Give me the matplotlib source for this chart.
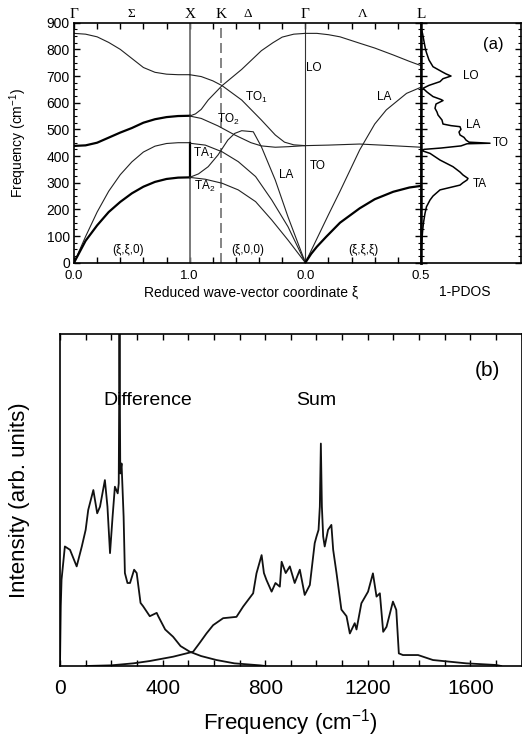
import numpy as np
import matplotlib.pyplot as plt
from matplotlib.ticker import MultipleLocator, FixedLocator, NullFormatter

plt.rcParams['font.family'] = ['Liberation Sans', 'DejaVu Sans']
plt.rcParams['mathtext.fontset'] = 'custom'
plt.rcParams['mathtext.rm'] = 'Liberation Sans'
plt.rcParams['mathtext.it'] = 'Liberation Sans:italic'
plt.rcParams['mathtext.bf'] = 'Liberation Sans:bold'

# path coordinate along the dispersion plot:
# 0..1  Gamma -> X  (xi,xi,0)
# 1..2  X -> Gamma  (xi,0,0), xi running 1 -> 0
# 2..3  Gamma -> L  (xi,xi,xi), xi running 0 -> 0.5
K_POS = 1.268

# ---- Sigma direction ----
sig_s = [0.0, 0.1, 0.2, 0.3, 0.4, 0.5, 0.6, 0.7, 0.8, 0.9, 1.0]
sig_lo = [860, 857, 847, 826, 800, 766, 732, 714, 707, 705, 705]
sig_to = [438, 440, 450, 469, 488, 505, 525, 538, 546, 550, 551]
sig_ta1 = [0, 98, 190, 268, 330, 378, 415, 437, 447, 450, 450]
sig_ta2 = [0, 82, 140, 190, 228, 260, 285, 303, 314, 319, 320]

# ---- Delta direction ----
del_up_s = [1.0, 1.05, 1.1, 1.16, 1.28, 1.45, 1.62, 1.72, 1.8, 1.9, 2.0]
del_up = [550, 558, 575, 610, 664, 725, 795, 825, 846, 857, 860]
del_to1_s = [1.0, 1.1, 1.2, 1.28, 1.45, 1.62, 1.74, 1.82, 1.9, 2.0]
del_to1 = [705, 698, 682, 664, 610, 535, 479, 452, 442, 439]
del_to2_s = [1.0, 1.1, 1.245, 1.39, 1.53, 1.62, 1.74, 1.85, 2.0]
del_to2 = [550, 541, 513, 479, 450, 438, 433, 435, 439]
del_ta1_s = [1.0, 1.135, 1.28, 1.42, 1.57, 1.71, 1.85, 2.0]
del_ta1 = [448, 441, 416, 379, 323, 235, 135, 0]
del_ta2_s = [1.0, 1.135, 1.28, 1.42, 1.57, 1.71, 1.85, 2.0]
del_ta2 = [320, 313, 298, 273, 229, 160, 85, 0]
del_la_s = [1.0, 1.076, 1.16, 1.245, 1.33, 1.39, 1.45, 1.55, 1.62, 1.74, 1.85, 2.0]
del_la = [320, 333, 360, 404, 460, 485, 495, 491, 435, 310, 172, 0]
x_join = [320, 448]

# ---- Lambda direction ----
lam_lo_s = [2.0, 2.1, 2.2, 2.3, 2.47, 2.6, 2.76, 2.9, 3.0]
lam_lo = [860, 860, 855, 847, 823, 805, 779, 755, 739]
lam_to_s = [2.0, 2.2, 2.47, 2.7, 3.0]
lam_to = [439, 441, 445, 440, 433]
lam_la_s = [2.0, 2.1, 2.2, 2.3, 2.47, 2.6, 2.7, 2.875, 3.0]
lam_la = [0, 90, 180, 268, 423, 520, 573, 635, 658]
lam_ta_s = [2.0, 2.05, 2.1, 2.18, 2.3, 2.47, 2.6, 2.76, 2.9, 3.0]
lam_ta = [0, 33, 60, 97, 150, 204, 238, 266, 282, 288]

# ---- phonon density of states ----
pdos_f = [880, 860, 830, 800, 785, 760, 735, 716, 708, 700, 690, 679, 665, 654,
          640, 623, 612, 608, 595, 579, 565, 554, 535, 520, 514, 510, 500, 490,
          479, 470, 460, 452, 448, 446, 438, 430, 425, 420, 410, 385, 360, 340,
          329, 316, 310, 300, 291, 273, 250, 235, 210, 185, 150, 123, 80, 36, 0]
pdos_v = [0.0, 0.015, 0.03, 0.045, 0.057, 0.08, 0.12, 0.21, 0.25, 0.30, 0.22,
          0.19, 0.08, 0.02, 0.06, 0.12, 0.20, 0.22, 0.15, 0.14, 0.16, 0.17,
          0.21, 0.22, 0.30, 0.39, 0.40, 0.38, 0.39, 0.43, 0.45, 0.48, 0.69,
          0.46, 0.40, 0.20, 0.03, 0.01, 0.09, 0.19, 0.32, 0.39, 0.42, 0.47,
          0.46, 0.42, 0.39, 0.19, 0.12, 0.09, 0.055, 0.04, 0.025, 0.017,
          0.008, 0.0, 0.0]

# ---- two-phonon spectra ----
diff_f = [0, 3, 6, 19, 39, 65, 85, 100, 110, 130, 145, 156, 175, 185, 195, 205,
          214, 225, 229, 232, 235, 240, 248, 253, 263, 273, 289, 299, 314, 324,
          350, 377, 383, 410, 441, 470, 506, 550, 610, 680, 779, 800]
diff_i = [0, 18, 26, 36, 35, 30, 36, 41, 47, 53, 46, 48, 56, 48, 34, 45, 54,
          52, 55, 100, 58, 61, 45, 28, 25, 25, 29, 28, 19, 18, 15, 16, 15, 11,
          8.8, 6, 4.3, 3, 1.8, 0.8, 0.2, 0]
sum_f = [100, 200, 286, 350, 441, 519, 545, 571, 597, 636, 688, 714, 753, 766,
         786, 795, 805, 825, 840, 857, 864, 880, 896, 915, 935, 954, 974, 993,
         1000, 1008, 1013, 1017, 1021, 1026, 1032, 1045, 1058, 1065, 1078, 1097,
         1117, 1130, 1149, 1156, 1175, 1201, 1220, 1234, 1247, 1260, 1273, 1298,
         1311, 1321, 1337, 1396, 1454, 1584, 1701, 1720]
sum_i = [0, 0.2, 0.8, 1.5, 2.8, 4.3, 7, 9.8, 12.3, 14.4, 14.8, 17.9, 21.9, 27.9,
         33.4, 28, 25.9, 22.4, 25, 23.9, 31.4, 28, 30, 25, 29, 21.4, 24.4, 37,
         39, 41, 48, 67, 48, 39, 36, 41, 42.5, 35, 28, 17, 15, 9.8, 12.9, 11,
         18.9, 22.4, 27.9, 20.9, 21.9, 10.3, 11.8, 19.4, 16.9, 3.8, 3.3, 3.3,
         1.8, 0.8, 0.3, 0]

fig = plt.figure(figsize=(5.22, 7.46), dpi=100)
ax = fig.add_axes([74 / 522, 1 - 262.7 / 746, 347 / 522, 240 / 746])
axd = fig.add_axes([421 / 522, 1 - 262.7 / 746, 100 / 522, 240 / 746])
axb = fig.add_axes([60 / 522, 1 - 666 / 746, 461.7 / 522, 332 / 746])

thin = dict(color='#222222', lw=0.8)
thick = dict(color='black', lw=1.6)

# symmetry lines
ax.axvline(1.0, color='#707070', lw=1.3)
ax.axvline(K_POS, color='#707070', lw=1.2, ls=(0, (6, 3)))
ax.axvline(2.0, color='#333333', lw=0.8)

ax.plot(sig_s, sig_lo, **thin)
ax.plot(sig_s, sig_to, **thick)
ax.plot(sig_s, sig_ta1, **thin)
ax.plot(sig_s, sig_ta2, **thick)
ax.plot([1.0, 1.0], x_join, **thick)

ax.plot(del_up_s, del_up, **thin)
ax.plot(del_to1_s, del_to1, **thin)
ax.plot(del_to2_s, del_to2, **thin)
ax.plot(del_ta1_s, del_ta1, **thin)
ax.plot(del_ta2_s, del_ta2, **thin)
ax.plot(del_la_s, del_la, **thin)

ax.plot(lam_lo_s, lam_lo, **thin)
ax.plot(lam_to_s, lam_to, **thin)
ax.plot(lam_la_s, lam_la, **thin)
ax.plot(lam_ta_s, lam_ta, **thick)

ax.set_xlim(0, 3)
ax.set_ylim(0, 900)
ax.xaxis.set_major_locator(FixedLocator([0, 1, 2, 3]))
ax.set_xticklabels(['0.0', '1.0', '0.0', '0.5'])
ax.xaxis.set_minor_locator(MultipleLocator(0.2))
ax.yaxis.set_major_locator(MultipleLocator(100))
ax.yaxis.set_minor_locator(MultipleLocator(25))
ax.tick_params(which='both', direction='in', top=True, right=True)
ax.tick_params(which='major', length=4.5, width=1.0, labelsize=10, pad=3)
ax.tick_params(axis='x', which='minor', length=4.5, width=1.0)
ax.tick_params(axis='y', which='minor', length=2.5, width=0.8)
ax.tick_params(axis='x', labelsize=9.5, pad=5)
for sp in ax.spines.values():
    sp.set_linewidth(1.2)
ax.spines['right'].set_linewidth(1.8)

ax.set_ylabel('Frequency (cm$^{-1}$)', fontsize=10)
ax.yaxis.set_label_coords(-0.13, 0.5)
ax.set_xlabel('Reduced wave-vector coordinate ξ', fontsize=10)
ax.xaxis.set_label_coords(0.51, -0.095)

# high-symmetry points along the top
top_big = [(0.0, 'Γ'), (1.0, 'X'), (K_POS, 'K'), (2.0, 'Γ'), (3.0, 'L')]
top_small = [(0.5, 'Σ'), (1.5, 'Δ'), (2.5, 'Λ')]
for xp, lab in top_big:
    ax.text(xp, 1.035, lab, transform=ax.get_xaxis_transform(), ha='center',
            va='center', fontsize=11, family='Liberation Serif')
for xp, lab in top_small:
    ax.text(xp, 1.035, lab, transform=ax.get_xaxis_transform(), ha='center',
            va='center', fontsize=9.5, family='Liberation Serif')

lab_fs = 8.5
ax.text(1.48, 620, 'TO$_1$', fontsize=lab_fs, va='center')
ax.text(1.24, 539, 'TO$_2$', fontsize=lab_fs, va='center')
ax.text(1.03, 410, 'TA$_1$', fontsize=lab_fs, va='center')
ax.text(1.04, 285, 'TA$_2$', fontsize=lab_fs, va='center')
ax.text(1.77, 329, 'LA', fontsize=lab_fs, va='center')
ax.text(2.04, 363, 'TO', fontsize=lab_fs, va='center')
ax.text(2.01, 729, 'LO', fontsize=lab_fs, va='center')
ax.text(2.62, 622, 'LA', fontsize=lab_fs, va='center')
ax.text(0.47, 48, '(ξ,ξ,0)', fontsize=8.5, ha='center', va='center')
ax.text(1.50, 48, '(ξ,0,0)', fontsize=8.5, ha='center', va='center')
ax.text(2.50, 48, '(ξ,ξ,ξ)', fontsize=8.5, ha='center', va='center')

# density of states panel
axd.plot(pdos_v, pdos_f, color='black', lw=1.1)
axd.set_xlim(0, 1)
axd.set_ylim(0, 900)
axd.set_xticks([])
axd.yaxis.set_major_locator(MultipleLocator(100))
axd.yaxis.set_minor_locator(MultipleLocator(25))
axd.yaxis.set_major_formatter(NullFormatter())
axd.tick_params(which='both', direction='in', left=True, right=True)
axd.tick_params(which='major', length=4.5, width=1.0)
axd.tick_params(which='minor', length=2.5, width=0.8)
for sp in axd.spines.values():
    sp.set_linewidth(1.2)
axd.spines['left'].set_linewidth(1.8)
axd.set_xlabel('1-PDOS', fontsize=10)
axd.xaxis.set_label_coords(0.44, -0.095)
axd.text(0.72, 0.91, '(a)', transform=axd.transAxes, fontsize=12,
         ha='center', va='center')
axd.text(0.42, 700, 'LO', fontsize=lab_fs, va='center')
axd.text(0.45, 515, 'LA', fontsize=lab_fs, va='center')
axd.text(0.72, 447, 'TO', fontsize=lab_fs, va='center')
axd.text(0.52, 295, 'TA', fontsize=lab_fs, va='center')

# two-phonon spectra panel
axb.plot(diff_f, diff_i, color='#111111', lw=1.3)
axb.plot(sum_f, sum_i, color='#111111', lw=1.3)
axb.set_xlim(0, 1800)
axb.set_ylim(0, 100)
axb.xaxis.set_major_locator(MultipleLocator(400))
axb.xaxis.set_minor_locator(MultipleLocator(100))
axb.set_yticks([])
axb.tick_params(axis='x', which='both', direction='in', top=True,
                length=4.5, width=1.0)
axb.tick_params(axis='x', which='major', labelsize=15, pad=9)
for sp in axb.spines.values():
    sp.set_linewidth(1.2)
axb.set_xlabel('Frequency (cm$^{-1}$)', fontsize=16)
axb.xaxis.set_label_coords(0.5, -0.125)
axb.set_ylabel('Intensity (arb. units)', fontsize=16)
axb.yaxis.set_label_coords(-0.065, 0.5)
axb.text(0.925, 0.89, '(b)', transform=axb.transAxes, fontsize=15,
         ha='center', va='center')
axb.text(0.19, 0.80, 'Difference', transform=axb.transAxes, fontsize=14,
         ha='center', va='center')
axb.text(0.555, 0.80, 'Sum', transform=axb.transAxes, fontsize=14,
         ha='center', va='center')

fig.savefig('out.png', dpi=100)
